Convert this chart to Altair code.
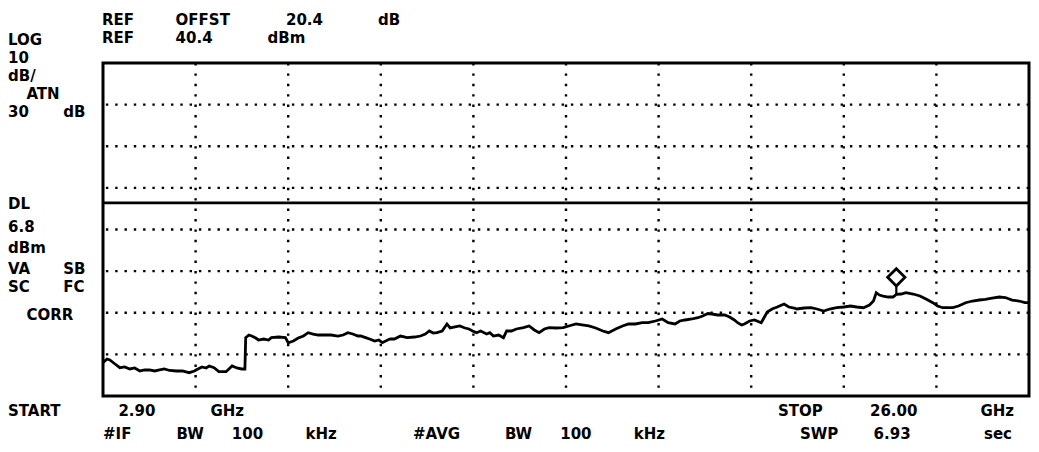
import re
import altair as alt
import pandas as pd

freq_ghz = [
    2.90, 3.00, 3.07, 3.20, 3.32, 3.44, 3.57, 3.69, 3.82, 3.94, 4.06, 4.19, 4.31, 4.43,
    4.56, 4.73, 4.88, 5.05, 5.18, 5.22, 5.37, 5.47, 5.55, 5.67, 5.79, 5.97, 6.12, 6.24,
    6.36, 6.44, 6.46, 6.54, 6.61, 6.71, 6.78, 6.91, 7.03, 7.10, 7.28, 7.45, 7.52, 7.65,
    7.77, 7.90, 8.02, 8.14, 8.27, 8.44, 8.59, 8.76, 8.89, 9.01, 9.13, 9.26, 9.33, 9.45,
    9.55, 9.68, 9.78, 9.87, 10.00, 10.07, 10.17, 10.32, 10.49, 10.67, 10.82, 10.94, 11.04,
    11.14, 11.23, 11.36, 11.48, 11.56, 11.68, 11.80, 11.93, 12.03, 12.12, 12.22, 12.32,
    12.47, 12.55, 12.64, 12.77, 12.89, 12.97, 13.09, 13.21, 13.39, 13.53, 13.66, 13.78,
    13.91, 14.03, 14.20, 14.38, 14.52, 14.70, 14.85, 15.02, 15.19, 15.37, 15.51, 15.69,
    15.86, 16.01, 16.18, 16.35, 16.50, 16.68, 16.85, 17.00, 17.17, 17.29, 17.42, 17.59,
    17.74, 17.86, 17.99, 18.09, 18.23, 18.41, 18.53, 18.65, 18.73, 18.83, 18.90, 19.03,
    19.15, 19.32, 19.40, 19.47, 19.59, 19.72, 19.89, 20.01, 20.14, 20.21, 20.39, 20.56,
    20.71, 20.88, 21.03, 21.20, 21.38, 21.55, 21.70, 21.87, 22.02, 22.12, 22.19, 22.27,
    22.36, 22.49, 22.61, 22.69, 22.81, 22.93, 23.11, 23.28, 23.43, 23.60, 23.72, 23.85,
    23.97, 24.10, 24.24, 24.42, 24.59, 24.76, 24.91, 25.08, 25.26, 25.41, 25.58, 25.75,
    25.90, 26.00,
]
amp_dbm = [
    -31.60, -30.71, -30.95, -31.91, -32.80, -32.63, -33.11, -32.87, -33.59, -33.35, -33.35,
    -33.59, -33.35, -33.11, -33.47, -33.59, -33.59, -34.00, -33.59, -33.35, -32.63, -32.87,
    -32.39, -32.80, -33.76, -33.76, -32.39, -32.87, -33.11, -33.11, -25.59, -24.95, -25.19,
    -25.67, -26.15, -25.91, -26.15, -25.59, -25.43, -25.59, -26.80, -26.39, -25.67, -25.19,
    -24.39, -24.71, -24.95, -24.95, -24.95, -25.19, -24.95, -24.39, -24.71, -25.19, -25.19,
    -25.59, -25.91, -26.39, -26.15, -26.80, -26.15, -25.91, -25.91, -25.19, -25.59, -25.43,
    -25.19, -24.71, -23.98, -24.47, -24.39, -23.98, -22.30, -23.26, -23.02, -22.78, -23.26,
    -23.50, -23.98, -24.39, -23.98, -24.71, -24.39, -25.19, -24.95, -25.59, -23.98, -23.98,
    -23.50, -23.19, -22.78, -23.74, -24.39, -23.50, -23.19, -23.26, -23.19, -22.78, -22.30,
    -22.54, -22.78, -23.26, -23.98, -24.39, -23.50, -22.78, -22.30, -22.30, -21.99, -21.99,
    -21.58, -21.10, -21.99, -22.30, -21.58, -21.34, -21.10, -20.79, -20.38, -19.78, -19.90,
    -20.14, -20.14, -20.62, -21.34, -21.99, -22.54, -22.30, -21.58, -21.34, -21.99, -20.62,
    -19.42, -18.70, -18.22, -17.50, -18.22, -18.46, -18.70, -18.46, -18.39, -18.70, -19.18,
    -18.70, -18.39, -18.22, -17.98, -18.22, -18.39, -17.74, -16.78, -14.78, -15.34, -15.58,
    -15.82, -15.82, -15.17, -15.10, -14.78, -15.10, -15.58, -16.30, -17.19, -17.98, -18.39,
    -18.39, -18.39, -17.98, -17.19, -16.78, -16.54, -16.37, -16.06, -15.82, -15.94, -16.54,
    -16.78, -17.19, -17.19,
]
marker_freq = [22.69]
marker_amp = [-15.17]

start_ghz, stop_ghz = 2.90, 26.00
ref_level_dbm = 40.4
db_per_div = 10
n_vdiv = 8
grid_dbm = [30.4, 20.4, 10.4, 0.4, -9.6, -19.6, -29.6]
grid_ghz = [5.21, 7.52, 9.83, 12.14, 14.45, 16.76, 19.07, 21.38, 23.69]
display_line_dbm = [6.8]

header_lines = ["REF OFFST 20.4 dB", "REF 40.4 dBm"]
side_lines = ["LOG", "10", "dB/", " ATN", "30 dB", "DL", "6.8", "dBm",
              "VA SB", "SC FC", " CORR"]
footer_lines = ["START 2.90 GHz", "STOP 26.00 GHz", "#IF BW 100 kHz",
                "#AVG BW 100 kHz", "SWP 6.93  sec"]

# ---------------- layout (page pixels) ----------------
PLOT_X0, PLOT_Y0 = 103, 63
W, H = 926, 333
PITCH = 18.4
header_pos = [(102, 20), (102, 38)]
side_pos = [(8, 40), (8, 58), (8, 76), (8, 94), (8, 112), (8, 204), (8, 227),
            (8, 248), (8, 269), (8, 287), (8, 315)]
footer_pos = [(8, 411), (778, 411), (103, 434), (413, 434), (800, 434)]

rows = []
for lines, pos in ((header_lines, header_pos), (side_lines, side_pos),
                   (footer_lines, footer_pos)):
    for line, (x0, yc) in zip(lines, pos):
        for m in re.finditer(r"\S+", line):
            rows.append({"t": m.group(0),
                         "px": x0 + m.start() * PITCH - PLOT_X0,
                         "py": yc - PLOT_Y0})
text_df = pd.DataFrame(rows)

trace_df = pd.DataFrame({"f": freq_ghz, "a": amp_dbm})
mk_df = pd.DataFrame({"f": marker_freq, "a": marker_amp})
hg_df = pd.DataFrame({"a": grid_dbm})
vg_df = pd.DataFrame({"f": grid_ghz})
dl_df = pd.DataFrame({"a": display_line_dbm})

xs = alt.Scale(domain=[start_ghz, stop_ghz], nice=False, zero=False)
ys = alt.Scale(domain=[ref_level_dbm - db_per_div * n_vdiv, ref_level_dbm],
               nice=False, zero=False)
X = lambda: alt.X("f:Q", scale=xs, axis=None)
Y = lambda: alt.Y("a:Q", scale=ys, axis=None)

hgrid = alt.Chart(hg_df).mark_rule(color="black", strokeWidth=2.4,
                                   strokeDash=[2.4, 6.9]).encode(y=Y())
vgrid = alt.Chart(vg_df).mark_rule(color="black", strokeWidth=2.4,
                                   strokeDash=[2.4, 8.0]).encode(x=X())
dline = alt.Chart(dl_df).mark_rule(color="black", strokeWidth=2.6).encode(y=Y())
trace = alt.Chart(trace_df).mark_line(color="black", strokeWidth=2.8,
                                      clip=True).encode(x=X(), y=Y())
stem = alt.Chart(mk_df).mark_rule(color="black", strokeWidth=2.2,
                                  y2Offset=-8).encode(x=X(), y=Y(), y2=alt.Y2("a:Q"))
marker = alt.Chart(mk_df).mark_point(shape="diamond", filled=True, fill="white",
                                     stroke="black", strokeWidth=2.8, size=300,
                                     opacity=1, yOffset=-17).encode(x=X(), y=Y())
texts = alt.Chart(text_df).mark_text(
    align="left", baseline="middle", font="DejaVu Sans", fontWeight="bold",
    fontSize=15, color="black"
).encode(
    x=alt.X("px:Q", scale=None, axis=None),
    y=alt.Y("py:Q", scale=None, axis=None),
    text="t:N",
)

chart = alt.layer(hgrid, vgrid, dline, trace, stem, marker, texts).resolve_scale(
    x="independent", y="independent"
).properties(
    width=W, height=H,
    padding={"left": 95, "top": 55, "right": 2, "bottom": 48},
    autosize=alt.AutoSizeParams(type="none"),
    background="white",
).configure_view(stroke="black", strokeWidth=3)

chart.save("out.html", embed_options={"renderer": "svg", "actions": False})
